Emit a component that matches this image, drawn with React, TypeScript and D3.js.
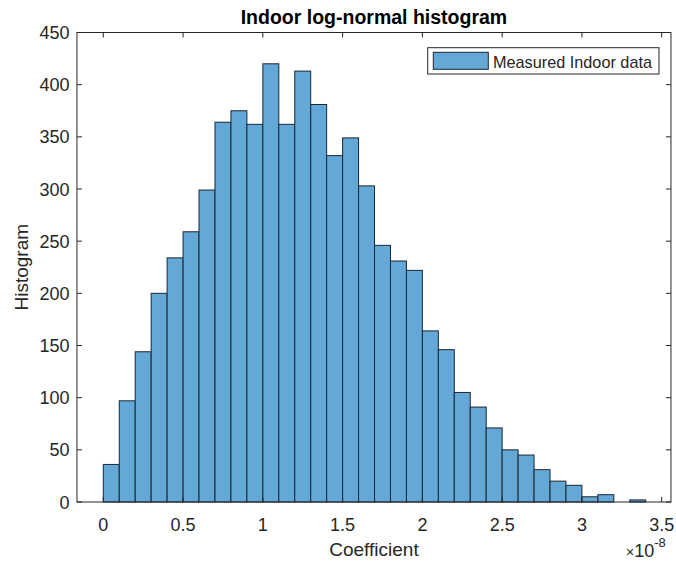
import React from "react";
import * as d3 from "d3";

const binStarts = d3.range(0, 34).map((i) => i * 0.1);
const binWidth = 0.1;
const counts = [36, 97, 144, 200, 234, 259, 299, 364, 375, 362, 420, 362, 413, 381, 332, 349, 303, 246, 231, 222, 164, 146, 105, 91, 71, 50, 45, 31, 20, 16, 5, 7, 0, 2];
const xTicks = [0, 0.5, 1, 1.5, 2, 2.5, 3, 3.5];
const yTicks = [0, 50, 100, 150, 200, 250, 300, 350, 400, 450];
const titleText = "Indoor log-normal histogram";
const xLabel = "Coefficient";
const yLabel = "Histogram";
const legendLabel = "Measured Indoor data";

const W = 676;
const H = 563;
const FONT = "'Liberation Sans', Arial, Helvetica, sans-serif";
const AX = "#262626";
const FILL = "rgb(100,168,215)";
const EDGE = "#1c2631";

export default function App() {
  const x = d3.scaleLinear().domain([0, 3.5]).range([103.3, 661.7]);
  const y = d3.scaleLinear().domain([0, 450]).range([502, 32.5]);
  const left = x(-0.165);
  const right = x(3.558);
  const top = y(450);
  const bottom = y(0);
  const cx = (left + right) / 2;
  const cy = (top + bottom) / 2;
  const tick = 5;

  return (
    <svg
      width={W}
      height={H}
      style={{ position: "fixed", left: 0, top: 0, background: "#fff" }}
      fontFamily={FONT}
    >
      <rect x={0} y={0} width={W} height={H} fill="#fff" />
      {counts.map((c, i) =>
        c > 0 ? (
          <rect
            key={i}
            x={x(binStarts[i])}
            y={y(c)}
            width={x(binStarts[i] + binWidth) - x(binStarts[i])}
            height={y(0) - y(c)}
            fill={FILL}
            stroke={EDGE}
            strokeWidth={1}
          />
        ) : null
      )}
      <rect x={left} y={top} width={right - left} height={bottom - top} fill="none" stroke={AX} strokeWidth={1} />
      {xTicks.map((t) => (
        <g key={"x" + t}>
          <line x1={x(t)} x2={x(t)} y1={bottom} y2={bottom - tick} stroke={AX} />
          <line x1={x(t)} x2={x(t)} y1={top} y2={top + tick} stroke={AX} />
          <text x={x(t)} y={531} textAnchor="middle" fontSize={18} fill={AX}>
            {String(t)}
          </text>
        </g>
      ))}
      {yTicks.map((t) => (
        <g key={"y" + t}>
          <line x1={left} x2={left + tick} y1={y(t)} y2={y(t)} stroke={AX} />
          <line x1={right} x2={right - tick} y1={y(t)} y2={y(t)} stroke={AX} />
          <text x={69.5} y={y(t) + 6.5} textAnchor="end" fontSize={18} fill={AX}>
            {String(t)}
          </text>
        </g>
      ))}
      <text x={cx} y={24} textAnchor="middle" fontSize={19.5} fontWeight="bold" fill="#000">
        {titleText}
      </text>
      <text x={cx} y={556} textAnchor="middle" fontSize={19} fill={AX}>
        {xLabel}
      </text>
      <text x={626} y={556.5} fontSize={18} fill={AX}>
        <tspan fontSize={14}>×</tspan>10<tspan dy={-10} fontSize={13}>-8</tspan>
      </text>
      <text transform={`translate(28,${cy}) rotate(-90)`} textAnchor="middle" fontSize={19} fill={AX}>
        {yLabel}
      </text>
      <rect x={427.7} y={47.7} width={231.3} height={26.3} fill="#fff" stroke={AX} strokeWidth={1} />
      <rect x={433.3} y={52.3} width={55} height={17} fill={FILL} stroke={EDGE} strokeWidth={1} />
      <text x={493} y={67.5} fontSize={17} fill={AX} textLength={159} lengthAdjust="spacingAndGlyphs">
        {legendLabel}
      </text>
    </svg>
  );
}
